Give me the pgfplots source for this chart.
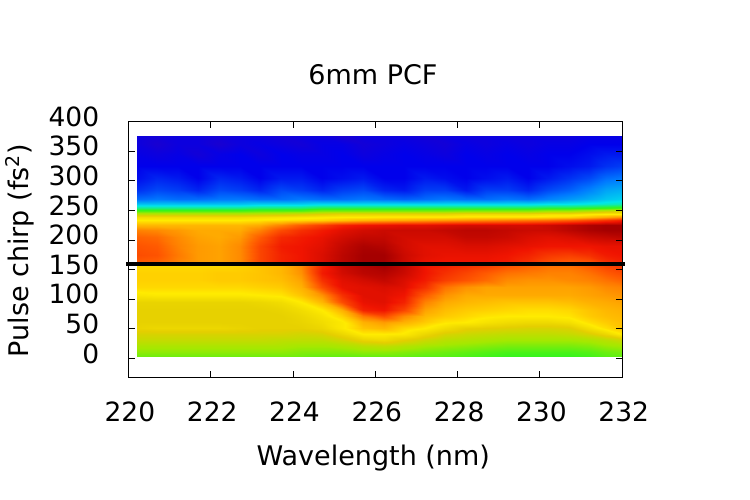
\documentclass[border=0pt]{standalone}
\usepackage{pgfplots}
\pgfplotsset{compat=1.18}
\usepackage{fontspec}
\setmainfont{DejaVu Sans}
\begin{document}
\fontsize{27bp}{32bp}\selectfont
\begin{tikzpicture}
\useasboundingbox (0,0) rectangle (750bp,500bp);
\begin{axis}[
  at={(128.4bp,122.7bp)}, anchor=south west,
  scale only axis, width=493.8bp, height=255.8bp,
  xmin=220, xmax=232, ymin=-31.5, ymax=400,
  xtick={220,222,224,226,228,230,232},
  ytick={0,50,100,150,200,250,300,350,400},
  tick align=inside, major tick length=6.5bp,
  xtick pos=both, ytick pos=both,
  xticklabel pos=lower, yticklabel pos=left,
  axis line style={line width=1bp},
  every tick/.style={black, line width=1bp},
  tick label style={font=\fontsize{26.5bp}{32bp}\selectfont},
  /pgf/number format/assume math mode=true,
  xticklabel style={anchor=base, yshift=-43.7bp, xshift=1.5bp, inner sep=0pt},
  yticklabel style={anchor=east, xshift=-29bp, yshift=5bp, inner sep=0pt},
  colormap={pal}{rgb255(0cm)=(60,0,170) rgb255(1cm)=(0,0,235) rgb255(2cm)=(0,120,255) rgb255(3cm)=(0,230,235) rgb255(4cm)=(50,245,30) rgb255(5cm)=(165,232,0) rgb255(6cm)=(228,206,0) rgb255(7cm)=(255,235,0) rgb255(8cm)=(255,170,0) rgb255(9cm)=(255,90,0) rgb255(10cm)=(240,20,0) rgb255(11cm)=(165,0,0)},
  point meta min=0, point meta max=11,
  axis on top, clip=false,
]
\addplot[surf, shader=interp, mesh/cols=25, point meta=explicit] table[row sep=\\, meta=c] {
x y c\\
220.2 3.4 4.5\\ 220.7 3.4 4.5\\ 221.2 3.4 4.5\\ 221.7 3.4 4.5\\ 222.2 3.4 4.5\\ 222.7 3.4 4.5\\ 223.2 3.4 4.5\\ 223.7 3.4 4.5\\ 224.2 3.4 4.5\\ 224.7 3.4 4.4\\ 225.2 3.4 4.4\\ 225.7 3.4 4.4\\ 226.2 3.4 4.4\\ 226.7 3.4 4.4\\ 227.2 3.4 4.3\\ 227.7 3.4 4.3\\ 228.2 3.4 4.2\\ 228.7 3.4 4.1\\ 229.2 3.4 4.0\\ 229.7 3.4 4.0\\ 230.2 3.4 4.0\\ 230.7 3.4 4.0\\ 231.2 3.4 4.1\\ 231.6 3.4 4.3\\ 232.0 3.4 4.4\\
220.2 12 4.8\\ 220.7 12 4.8\\ 221.2 12 4.8\\ 221.7 12 4.8\\ 222.2 12 4.8\\ 222.7 12 4.8\\ 223.2 12 4.8\\ 223.7 12 4.8\\ 224.2 12 4.7\\ 224.7 12 4.7\\ 225.2 12 4.7\\ 225.7 12 4.8\\ 226.2 12 4.8\\ 226.7 12 4.7\\ 227.2 12 4.6\\ 227.7 12 4.5\\ 228.2 12 4.4\\ 228.7 12 4.3\\ 229.2 12 4.2\\ 229.7 12 4.2\\ 230.2 12 4.2\\ 230.7 12 4.2\\ 231.2 12 4.3\\ 231.6 12 4.5\\ 232.0 12 4.6\\
220.2 22 5.1\\ 220.7 22 5.1\\ 221.2 22 5.1\\ 221.7 22 5.1\\ 222.2 22 5.1\\ 222.7 22 5.1\\ 223.2 22 5.1\\ 223.7 22 5.1\\ 224.2 22 5.0\\ 224.7 22 5.0\\ 225.2 22 5.1\\ 225.7 22 5.3\\ 226.2 22 5.4\\ 226.7 22 5.2\\ 227.2 22 5.0\\ 227.7 22 4.9\\ 228.2 22 4.8\\ 228.7 22 4.7\\ 229.2 22 4.6\\ 229.7 22 4.6\\ 230.2 22 4.6\\ 230.7 22 4.6\\ 231.2 22 4.7\\ 231.6 22 4.9\\ 232.0 22 5.0\\
220.2 32 5.5\\ 220.7 32 5.5\\ 221.2 32 5.5\\ 221.7 32 5.5\\ 222.2 32 5.5\\ 222.7 32 5.5\\ 223.2 32 5.5\\ 223.7 32 5.4\\ 224.2 32 5.4\\ 224.7 32 5.4\\ 225.2 32 5.7\\ 225.7 32 6.2\\ 226.2 32 6.4\\ 226.7 32 6.0\\ 227.2 32 5.6\\ 227.7 32 5.3\\ 228.2 32 5.2\\ 228.7 32 5.1\\ 229.2 32 5.0\\ 229.7 32 5.0\\ 230.2 32 5.0\\ 230.7 32 5.0\\ 231.2 32 5.1\\ 231.6 32 5.3\\ 232.0 32 5.6\\
220.2 42 5.8\\ 220.7 42 5.8\\ 221.2 42 5.8\\ 221.7 42 5.8\\ 222.2 42 5.8\\ 222.7 42 5.8\\ 223.2 42 5.8\\ 223.7 42 5.8\\ 224.2 42 5.7\\ 224.7 42 5.8\\ 225.2 42 6.3\\ 225.7 42 7.0\\ 226.2 42 7.0\\ 226.7 42 6.9\\ 227.2 42 6.3\\ 227.7 42 5.8\\ 228.2 42 5.6\\ 228.7 42 5.5\\ 229.2 42 5.4\\ 229.7 42 5.4\\ 230.2 42 5.4\\ 230.7 42 5.5\\ 231.2 42 5.8\\ 231.6 42 6.3\\ 232.0 42 7.0\\
220.2 52 6.2\\ 220.7 52 6.3\\ 221.2 52 6.3\\ 221.7 52 6.3\\ 222.2 52 6.3\\ 222.7 52 6.2\\ 223.2 52 6.1\\ 223.7 52 6.1\\ 224.2 52 6.1\\ 224.7 52 6.3\\ 225.2 52 6.9\\ 225.7 52 7.6\\ 226.2 52 7.8\\ 226.7 52 7.3\\ 227.2 52 7.0\\ 227.7 52 6.5\\ 228.2 52 6.1\\ 228.7 52 6.0\\ 229.2 52 5.9\\ 229.7 52 5.8\\ 230.2 52 5.8\\ 230.7 52 5.9\\ 231.2 52 6.6\\ 231.6 52 7.2\\ 232.0 52 7.6\\
220.2 62 6.1\\ 220.7 62 6.1\\ 221.2 62 6.1\\ 221.7 62 6.1\\ 222.2 62 6.1\\ 222.7 62 6.1\\ 223.2 62 6.1\\ 223.7 62 6.1\\ 224.2 62 6.2\\ 224.7 62 6.5\\ 225.2 62 6.9\\ 225.7 62 7.9\\ 226.2 62 8.2\\ 226.7 62 7.9\\ 227.2 62 7.5\\ 227.7 62 7.1\\ 228.2 62 7.0\\ 228.7 62 6.7\\ 229.2 62 6.5\\ 229.7 62 6.4\\ 230.2 62 6.4\\ 230.7 62 6.6\\ 231.2 62 7.2\\ 231.6 62 7.5\\ 232.0 62 7.7\\
220.2 72 6.1\\ 220.7 72 6.1\\ 221.2 72 6.1\\ 221.7 72 6.1\\ 222.2 72 6.1\\ 222.7 72 6.1\\ 223.2 72 6.1\\ 223.7 72 6.1\\ 224.2 72 6.3\\ 224.7 72 6.7\\ 225.2 72 7.4\\ 225.7 72 8.6\\ 226.2 72 9.2\\ 226.7 72 8.4\\ 227.2 72 7.8\\ 227.7 72 7.5\\ 228.2 72 7.3\\ 228.7 72 7.1\\ 229.2 72 7.0\\ 229.7 72 7.0\\ 230.2 72 7.0\\ 230.7 72 7.1\\ 231.2 72 7.5\\ 231.6 72 7.7\\ 232.0 72 7.8\\
220.2 82 6.1\\ 220.7 82 6.1\\ 221.2 82 6.1\\ 221.7 82 6.1\\ 222.2 82 6.1\\ 222.7 82 6.1\\ 223.2 82 6.1\\ 223.7 82 6.2\\ 224.2 82 6.5\\ 224.7 82 7.0\\ 225.2 82 7.9\\ 225.7 82 9.8\\ 226.2 82 10.0\\ 226.7 82 9.3\\ 227.2 82 8.1\\ 227.7 82 7.7\\ 228.2 82 7.5\\ 228.7 82 7.4\\ 229.2 82 7.3\\ 229.7 82 7.2\\ 230.2 82 7.2\\ 230.7 82 7.3\\ 231.2 82 7.6\\ 231.6 82 7.8\\ 232.0 82 7.9\\
220.2 95 6.2\\ 220.7 95 6.2\\ 221.2 95 6.2\\ 221.7 95 6.2\\ 222.2 95 6.2\\ 222.7 95 6.2\\ 223.2 95 6.3\\ 223.7 95 6.5\\ 224.2 95 7.0\\ 224.7 95 7.8\\ 225.2 95 9.2\\ 225.7 95 10.1\\ 226.2 95 10.2\\ 226.7 95 9.8\\ 227.2 95 8.5\\ 227.7 95 8.0\\ 228.2 95 7.8\\ 228.7 95 7.7\\ 229.2 95 7.6\\ 229.7 95 7.6\\ 230.2 95 7.6\\ 230.7 95 7.7\\ 231.2 95 7.9\\ 231.6 95 8.0\\ 232.0 95 8.1\\
220.2 108 6.8\\ 220.7 108 6.9\\ 221.2 108 6.9\\ 221.7 108 6.9\\ 222.2 108 6.9\\ 222.7 108 6.9\\ 223.2 108 7.0\\ 223.7 108 7.1\\ 224.2 108 7.6\\ 224.7 108 8.3\\ 225.2 108 9.6\\ 225.7 108 10.2\\ 226.2 108 10.2\\ 226.7 108 10.0\\ 227.2 108 9.0\\ 227.7 108 8.3\\ 228.2 108 8.0\\ 228.7 108 8.0\\ 229.2 108 8.0\\ 229.7 108 8.0\\ 230.2 108 8.0\\ 230.7 108 8.0\\ 231.2 108 8.1\\ 231.6 108 8.2\\ 232.0 108 8.3\\
220.2 120 7.3\\ 220.7 120 7.3\\ 221.2 120 7.3\\ 221.7 120 7.3\\ 222.2 120 7.3\\ 222.7 120 7.3\\ 223.2 120 7.4\\ 223.7 120 7.5\\ 224.2 120 7.9\\ 224.7 120 9.2\\ 225.2 120 10.1\\ 225.7 120 10.2\\ 226.2 120 10.3\\ 226.7 120 10.2\\ 227.2 120 9.6\\ 227.7 120 8.7\\ 228.2 120 8.3\\ 228.7 120 8.1\\ 229.2 120 8.1\\ 229.7 120 8.1\\ 230.2 120 8.1\\ 230.7 120 8.1\\ 231.2 120 8.2\\ 231.6 120 8.4\\ 232.0 120 8.5\\
220.2 132 7.4\\ 220.7 132 7.4\\ 221.2 132 7.4\\ 221.7 132 7.4\\ 222.2 132 7.5\\ 222.7 132 7.5\\ 223.2 132 7.6\\ 223.7 132 7.7\\ 224.2 132 8.1\\ 224.7 132 9.6\\ 225.2 132 10.2\\ 225.7 132 10.4\\ 226.2 132 10.6\\ 226.7 132 10.3\\ 227.2 132 9.9\\ 227.7 132 9.4\\ 228.2 132 9.1\\ 228.7 132 8.8\\ 229.2 132 8.4\\ 229.7 132 8.3\\ 230.2 132 8.3\\ 230.7 132 8.4\\ 231.2 132 8.5\\ 231.6 132 8.7\\ 232.0 132 8.9\\
220.2 145 7.4\\ 220.7 145 7.4\\ 221.2 145 7.4\\ 221.7 145 7.4\\ 222.2 145 7.5\\ 222.7 145 7.5\\ 223.2 145 7.6\\ 223.7 145 7.8\\ 224.2 145 8.3\\ 224.7 145 9.9\\ 225.2 145 10.4\\ 225.7 145 10.7\\ 226.2 145 10.8\\ 226.7 145 10.5\\ 227.2 145 10.0\\ 227.7 145 9.6\\ 228.2 145 9.3\\ 228.7 145 9.0\\ 229.2 145 8.7\\ 229.7 145 8.6\\ 230.2 145 8.5\\ 230.7 145 8.5\\ 231.2 145 8.7\\ 231.6 145 9.0\\ 232.0 145 9.2\\
220.2 156 7.3\\ 220.7 156 7.3\\ 221.2 156 7.3\\ 221.7 156 7.3\\ 222.2 156 7.3\\ 222.7 156 7.4\\ 223.2 156 7.6\\ 223.7 156 7.8\\ 224.2 156 8.4\\ 224.7 156 9.8\\ 225.2 156 10.5\\ 225.7 156 10.8\\ 226.2 156 11.0\\ 226.7 156 10.6\\ 227.2 156 10.0\\ 227.7 156 9.8\\ 228.2 156 9.6\\ 228.7 156 9.4\\ 229.2 156 9.1\\ 229.7 156 8.9\\ 230.2 156 8.7\\ 230.7 156 8.7\\ 231.2 156 9.0\\ 231.6 156 9.3\\ 232.0 156 9.5\\
220.2 163 9.0\\ 220.7 163 8.9\\ 221.2 163 8.5\\ 221.7 163 8.2\\ 222.2 163 8.1\\ 222.7 163 8.4\\ 223.2 163 9.3\\ 223.7 163 9.8\\ 224.2 163 10.0\\ 224.7 163 10.3\\ 225.2 163 10.7\\ 225.7 163 11.0\\ 226.2 163 11.0\\ 226.7 163 10.5\\ 227.2 163 10.1\\ 227.7 163 10.0\\ 228.2 163 10.0\\ 228.7 163 10.0\\ 229.2 163 9.9\\ 229.7 163 9.6\\ 230.2 163 9.2\\ 230.7 163 9.0\\ 231.2 163 9.1\\ 231.6 163 9.6\\ 232.0 163 9.8\\
220.2 175 9.2\\ 220.7 175 9.1\\ 221.2 175 8.6\\ 221.7 175 8.2\\ 222.2 175 8.1\\ 222.7 175 8.4\\ 223.2 175 9.3\\ 223.7 175 9.8\\ 224.2 175 10.0\\ 224.7 175 10.3\\ 225.2 175 10.7\\ 225.7 175 11.0\\ 226.2 175 11.0\\ 226.7 175 10.5\\ 227.2 175 10.2\\ 227.7 175 10.1\\ 228.2 175 10.1\\ 228.7 175 10.1\\ 229.2 175 10.0\\ 229.7 175 9.8\\ 230.2 175 9.5\\ 230.7 175 9.4\\ 231.2 175 9.6\\ 231.6 175 9.9\\ 232.0 175 10.0\\
220.2 190 9.1\\ 220.7 190 9.0\\ 221.2 190 8.5\\ 221.7 190 8.2\\ 222.2 190 8.1\\ 222.7 190 8.4\\ 223.2 190 9.3\\ 223.7 190 9.9\\ 224.2 190 10.0\\ 224.7 190 10.2\\ 225.2 190 10.6\\ 225.7 190 10.9\\ 226.2 190 10.8\\ 226.7 190 10.4\\ 227.2 190 10.2\\ 227.7 190 10.2\\ 228.2 190 10.3\\ 228.7 190 10.3\\ 229.2 190 10.2\\ 229.7 190 10.1\\ 230.2 190 10.0\\ 230.7 190 10.0\\ 231.2 190 10.0\\ 231.6 190 10.1\\ 232.0 190 10.1\\
220.2 205 8.9\\ 220.7 205 8.8\\ 221.2 205 8.4\\ 221.7 205 8.1\\ 222.2 205 8.0\\ 222.7 205 8.2\\ 223.2 205 9.0\\ 223.7 205 9.7\\ 224.2 205 9.9\\ 224.7 205 10.1\\ 225.2 205 10.4\\ 225.7 205 10.6\\ 226.2 205 10.6\\ 226.7 205 10.4\\ 227.2 205 10.4\\ 227.7 205 10.4\\ 228.2 205 10.6\\ 228.7 205 10.6\\ 229.2 205 10.5\\ 229.7 205 10.3\\ 230.2 205 10.2\\ 230.7 205 10.3\\ 231.2 205 10.5\\ 231.6 205 10.6\\ 232.0 205 10.7\\
220.2 217 8.5\\ 220.7 217 8.4\\ 221.2 217 8.2\\ 221.7 217 8.0\\ 222.2 217 8.0\\ 222.7 217 8.0\\ 223.2 217 8.5\\ 223.7 217 9.2\\ 224.2 217 9.6\\ 224.7 217 9.9\\ 225.2 217 10.2\\ 225.7 217 10.4\\ 226.2 217 10.5\\ 226.7 217 10.5\\ 227.2 217 10.5\\ 227.7 217 10.6\\ 228.2 217 10.7\\ 228.7 217 10.7\\ 229.2 217 10.6\\ 229.7 217 10.5\\ 230.2 217 10.5\\ 230.7 217 10.7\\ 231.2 217 10.9\\ 231.6 217 11.0\\ 232.0 217 11.0\\
220.2 226 7.8\\ 220.7 226 7.8\\ 221.2 226 7.8\\ 221.7 226 7.8\\ 222.2 226 7.8\\ 222.7 226 7.8\\ 223.2 226 8.0\\ 223.7 226 8.5\\ 224.2 226 9.0\\ 224.7 226 9.4\\ 225.2 226 9.8\\ 225.7 226 10.0\\ 226.2 226 10.1\\ 226.7 226 10.2\\ 227.2 226 10.2\\ 227.7 226 10.3\\ 228.2 226 10.4\\ 228.7 226 10.4\\ 229.2 226 10.4\\ 229.7 226 10.4\\ 230.2 226 10.5\\ 230.7 226 10.7\\ 231.2 226 10.9\\ 231.6 226 11.0\\ 232.0 226 11.0\\
220.2 234 7.0\\ 220.7 234 7.0\\ 221.2 234 7.0\\ 221.7 234 7.0\\ 222.2 234 7.0\\ 222.7 234 7.0\\ 223.2 234 7.1\\ 223.7 234 7.2\\ 224.2 234 7.3\\ 224.7 234 7.4\\ 225.2 234 7.6\\ 225.7 234 7.8\\ 226.2 234 7.9\\ 226.7 234 8.0\\ 227.2 234 8.1\\ 227.7 234 8.2\\ 228.2 234 8.3\\ 228.7 234 8.4\\ 229.2 234 8.5\\ 229.7 234 8.6\\ 230.2 234 8.7\\ 230.7 234 8.9\\ 231.2 234 9.2\\ 231.6 234 9.5\\ 232.0 234 9.8\\
220.2 239 6.5\\ 220.7 239 6.5\\ 221.2 239 6.5\\ 221.7 239 6.5\\ 222.2 239 6.5\\ 222.7 239 6.5\\ 223.2 239 6.6\\ 223.7 239 6.7\\ 224.2 239 6.8\\ 224.7 239 6.9\\ 225.2 239 7.0\\ 225.7 239 7.0\\ 226.2 239 7.1\\ 226.7 239 7.1\\ 227.2 239 7.1\\ 227.7 239 7.1\\ 228.2 239 7.2\\ 228.7 239 7.2\\ 229.2 239 7.2\\ 229.7 239 7.2\\ 230.2 239 7.3\\ 230.7 239 7.4\\ 231.2 239 7.7\\ 231.6 239 8.0\\ 232.0 239 8.3\\
220.2 244 5.4\\ 220.7 244 5.4\\ 221.2 244 5.4\\ 221.7 244 5.4\\ 222.2 244 5.4\\ 222.7 244 5.4\\ 223.2 244 5.5\\ 223.7 244 5.6\\ 224.2 244 5.8\\ 224.7 244 6.0\\ 225.2 244 6.2\\ 225.7 244 6.2\\ 226.2 244 6.2\\ 226.7 244 6.2\\ 227.2 244 6.2\\ 227.7 244 6.2\\ 228.2 244 6.4\\ 228.7 244 6.4\\ 229.2 244 6.4\\ 229.7 244 6.4\\ 230.2 244 6.6\\ 230.7 244 6.6\\ 231.2 244 6.9\\ 231.6 244 7.0\\ 232.0 244 7.0\\
220.2 249 4.3\\ 220.7 249 4.3\\ 221.2 249 4.3\\ 221.7 249 4.3\\ 222.2 249 4.3\\ 222.7 249 4.3\\ 223.2 249 4.4\\ 223.7 249 4.4\\ 224.2 249 4.4\\ 224.7 249 4.7\\ 225.2 249 4.7\\ 225.7 249 4.7\\ 226.2 249 4.7\\ 226.7 249 4.7\\ 227.2 249 4.7\\ 227.7 249 4.7\\ 228.2 249 4.8\\ 228.7 249 4.8\\ 229.2 249 4.8\\ 229.7 249 4.8\\ 230.2 249 5.0\\ 230.7 249 5.0\\ 231.2 249 5.3\\ 231.6 249 5.6\\ 232.0 249 5.8\\
220.2 254 3.5\\ 220.7 254 3.5\\ 221.2 254 3.5\\ 221.7 254 3.5\\ 222.2 254 3.5\\ 222.7 254 3.5\\ 223.2 254 3.6\\ 223.7 254 3.6\\ 224.2 254 3.6\\ 224.7 254 3.8\\ 225.2 254 3.8\\ 225.7 254 3.8\\ 226.2 254 3.8\\ 226.7 254 3.8\\ 227.2 254 3.8\\ 227.7 254 3.8\\ 228.2 254 3.8\\ 228.7 254 3.8\\ 229.2 254 3.8\\ 229.7 254 3.8\\ 230.2 254 3.9\\ 230.7 254 3.9\\ 231.2 254 4.0\\ 231.6 254 4.1\\ 232.0 254 4.2\\
220.2 260 2.7\\ 220.7 260 2.7\\ 221.2 260 2.7\\ 221.7 260 2.7\\ 222.2 260 2.7\\ 222.7 260 2.7\\ 223.2 260 2.8\\ 223.7 260 2.8\\ 224.2 260 2.8\\ 224.7 260 2.9\\ 225.2 260 2.9\\ 225.7 260 2.9\\ 226.2 260 2.9\\ 226.7 260 2.9\\ 227.2 260 2.9\\ 227.7 260 2.9\\ 228.2 260 2.9\\ 228.7 260 2.9\\ 229.2 260 2.9\\ 229.7 260 2.9\\ 230.2 260 3.0\\ 230.7 260 3.0\\ 231.2 260 3.1\\ 231.6 260 3.2\\ 232.0 260 3.3\\
220.2 270 1.9\\ 220.7 270 2.0\\ 221.2 270 1.9\\ 221.7 270 1.9\\ 222.2 270 2.0\\ 222.7 270 2.0\\ 223.2 270 1.9\\ 223.7 270 1.9\\ 224.2 270 2.0\\ 224.7 270 1.9\\ 225.2 270 1.9\\ 225.7 270 2.0\\ 226.2 270 1.9\\ 226.7 270 1.8\\ 227.2 270 1.9\\ 227.7 270 2.0\\ 228.2 270 1.9\\ 228.7 270 1.9\\ 229.2 270 2.0\\ 229.7 270 1.9\\ 230.2 270 2.1\\ 230.7 270 2.3\\ 231.2 270 2.5\\ 231.6 270 2.7\\ 232.0 270 2.8\\
220.2 285 1.4\\ 220.7 285 1.6\\ 221.2 285 1.5\\ 221.7 285 1.3\\ 222.2 285 1.6\\ 222.7 285 1.5\\ 223.2 285 1.3\\ 223.7 285 1.6\\ 224.2 285 1.5\\ 224.7 285 1.3\\ 225.2 285 1.5\\ 225.7 285 1.6\\ 226.2 285 1.3\\ 226.7 285 1.2\\ 227.2 285 1.5\\ 227.7 285 1.5\\ 228.2 285 1.2\\ 228.7 285 1.5\\ 229.2 285 1.5\\ 229.7 285 1.3\\ 230.2 285 1.6\\ 230.7 285 1.8\\ 231.2 285 2.1\\ 231.6 285 2.4\\ 232.0 285 2.5\\
220.2 305 1.1\\ 220.7 305 1.3\\ 221.2 305 1.2\\ 221.7 305 1.0\\ 222.2 305 1.3\\ 222.7 305 1.2\\ 223.2 305 1.0\\ 223.7 305 1.2\\ 224.2 305 1.2\\ 224.7 305 1.0\\ 225.2 305 1.1\\ 225.7 305 1.2\\ 226.2 305 1.0\\ 226.7 305 1.0\\ 227.2 305 1.2\\ 227.7 305 1.1\\ 228.2 305 1.0\\ 228.7 305 1.1\\ 229.2 305 1.2\\ 229.7 305 1.0\\ 230.2 305 1.2\\ 230.7 305 1.4\\ 231.2 305 1.6\\ 231.6 305 1.9\\ 232.0 305 2.0\\
220.2 325 1.0\\ 220.7 325 1.0\\ 221.2 325 1.0\\ 221.7 325 1.0\\ 222.2 325 1.0\\ 222.7 325 1.0\\ 223.2 325 1.0\\ 223.7 325 1.0\\ 224.2 325 1.0\\ 224.7 325 1.0\\ 225.2 325 1.0\\ 225.7 325 1.0\\ 226.2 325 1.0\\ 226.7 325 1.0\\ 227.2 325 1.0\\ 227.7 325 1.0\\ 228.2 325 1.0\\ 228.7 325 1.0\\ 229.2 325 1.0\\ 229.7 325 1.0\\ 230.2 325 1.0\\ 230.7 325 1.1\\ 231.2 325 1.2\\ 231.6 325 1.4\\ 232.0 325 1.5\\
220.2 345 0.9\\ 220.7 345 0.8\\ 221.2 345 0.9\\ 221.7 345 0.7\\ 222.2 345 0.9\\ 222.7 345 1.0\\ 223.2 345 0.8\\ 223.7 345 1.0\\ 224.2 345 0.9\\ 224.7 345 0.9\\ 225.2 345 1.0\\ 225.7 345 0.8\\ 226.2 345 0.9\\ 226.7 345 1.0\\ 227.2 345 0.9\\ 227.7 345 0.8\\ 228.2 345 1.0\\ 228.7 345 0.9\\ 229.2 345 1.0\\ 229.7 345 0.9\\ 230.2 345 1.0\\ 230.7 345 1.0\\ 231.2 345 1.1\\ 231.6 345 1.2\\ 232.0 345 1.2\\
220.2 362 0.8\\ 220.7 362 0.6\\ 221.2 362 0.8\\ 221.7 362 0.8\\ 222.2 362 0.6\\ 222.7 362 0.8\\ 223.2 362 0.9\\ 223.7 362 0.8\\ 224.2 362 0.7\\ 224.7 362 0.9\\ 225.2 362 0.9\\ 225.7 362 0.7\\ 226.2 362 0.8\\ 226.7 362 0.9\\ 227.2 362 0.8\\ 227.7 362 0.7\\ 228.2 362 0.9\\ 228.7 362 0.8\\ 229.2 362 0.9\\ 229.7 362 0.8\\ 230.2 362 0.9\\ 230.7 362 0.9\\ 231.2 362 1.0\\ 231.6 362 1.0\\ 232.0 362 1.0\\
220.2 376 0.8\\ 220.7 376 0.7\\ 221.2 376 0.8\\ 221.7 376 0.8\\ 222.2 376 0.7\\ 222.7 376 0.8\\ 223.2 376 0.8\\ 223.7 376 0.7\\ 224.2 376 0.8\\ 224.7 376 0.8\\ 225.2 376 0.6\\ 225.7 376 0.8\\ 226.2 376 0.8\\ 226.7 376 0.8\\ 227.2 376 0.7\\ 227.7 376 0.8\\ 228.2 376 0.8\\ 228.7 376 0.8\\ 229.2 376 0.8\\ 229.7 376 0.8\\ 230.2 376 0.8\\ 230.7 376 0.8\\ 231.2 376 0.9\\ 231.6 376 0.9\\ 232.0 376 0.9\\
};
\addplot[black, line width=4.7bp, line cap=rect] coordinates {(220,159.5) (232,159.5)};
\end{axis}
\node[anchor=base, inner sep=0pt] at (373bp,415.7bp) {6mm PCF};
\node[anchor=base, inner sep=0pt] at (373.3bp,35bp) {Wavelength (nm)};
\node[anchor=base, rotate=90, inner sep=0pt] at (28bp,249.2bp) {Pulse chirp (fs\textsuperscript{2})};
\end{tikzpicture}
\end{document}
